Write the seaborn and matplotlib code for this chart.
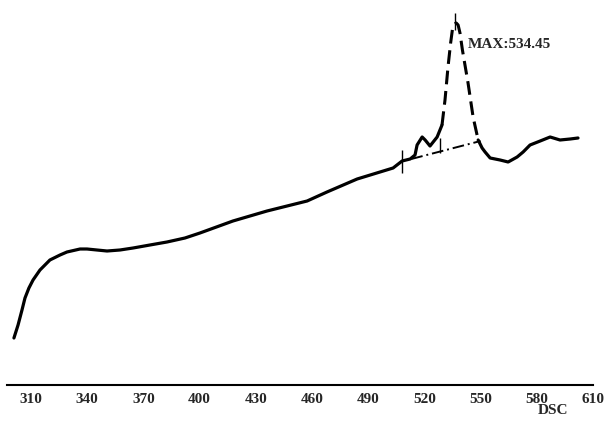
import numpy as np
import pandas as pd
import seaborn as sns
import matplotlib
matplotlib.use("Agg")
import matplotlib.pyplot as plt

# DSC trace, temperature (deg C) vs. heat flow (arbitrary units)
temp_left = [300.9, 303.1, 305.2, 306.8, 308.9, 311.1, 314.8, 320.1, 325.5, 329.2,
             336.2, 339.9, 345.2, 350.6, 357.5, 364.5, 373.5, 382.6, 392.2, 400.2,
             417.8, 436.0, 457.4, 468.0, 484.1, 503.3, 508.1, 512.4, 515.0, 516.1,
             518.8, 520.4, 523.0, 526.8, 529.4]
flow_left = [47, 60, 75, 87, 97, 105, 115, 125, 130, 133,
             136, 136, 135, 134, 135, 137, 140, 143, 147, 152,
             164, 174, 184, 193, 206, 217, 224, 226, 230, 240,
             248, 245, 239, 248, 260]

temp_peak = [529.4, 531.0, 532.6, 534.0, 535.0, 536.0, 537.0, 538.0, 539.0, 540.3,
             543.3, 546.0, 548.7]
flow_peak = [260, 285, 318, 342, 356, 361, 362, 360, 352, 335,
             302, 268, 245]

temp_right = [548.7, 550.8, 552.4, 555.1, 560.4, 564.7, 569.5, 572.7, 576.4, 581.8,
              587.1, 592.4, 597.8, 602.0]
flow_right = [245, 237, 233, 227, 225, 223, 228, 233, 240, 244,
              248, 245, 246, 247]

# baseline drawn under the peak
base_temp = [513.0, 550.0]
base_flow = [226, 244]

# little vertical markers on the trace
marks_temp = [508.1, 528.4, 536.5]
marks_lo = [212, 232, 355]
marks_hi = [235, 247, 372]

peak_temp = 534.45
xticks = [310, 340, 370, 400, 430, 460, 490, 520, 550, 580, 610]

sns.set_style("white")
plt.rcParams['font.family'] = ['Liberation Serif', 'DejaVu Serif']

fig = plt.figure(figsize=(6.06, 4.24), dpi=100)
ax = fig.add_axes([7 / 606, 39 / 424, 586 / 606, 385 / 424])

left = pd.DataFrame({'T': temp_left, 'Q': flow_left})
peak = pd.DataFrame({'T': temp_peak, 'Q': flow_peak})
right = pd.DataFrame({'T': temp_right, 'Q': flow_right})

sns.lineplot(data=left, x='T', y='Q', sort=False, color='black', lw=2.3, ax=ax)
sns.lineplot(data=peak, x='T', y='Q', sort=False, color='black', lw=2.2,
             linestyle=(0, (4.5, 2.2)), ax=ax)
sns.lineplot(data=right, x='T', y='Q', sort=False, color='black', lw=2.3, ax=ax)
ax.plot(base_temp, base_flow, color='black', lw=1.4, linestyle=(0, (6, 2, 1, 2)))
ax.vlines(marks_temp, marks_lo, marks_hi, color='black', lw=1.0)

ax.text(543.3, 340, f"MAX:{peak_temp}", fontsize=11, fontweight='bold', va='center', ha='left')

ax.set_xlim(297.2, 610)
ax.set_ylim(0, 385)
ax.set_xticks(xticks)
ax.set_yticks([])
ax.set_xlabel("")
ax.set_ylabel("")
for s in ['left', 'right', 'top']:
    ax.spines[s].set_visible(False)
ax.spines['bottom'].set_linewidth(1.5)
ax.spines['bottom'].set_color('black')
ax.tick_params(axis='x', direction='in', length=4, width=1.5, pad=6, labelsize=11)
for lab in ax.get_xticklabels():
    lab.set_fontweight('bold')

fig.text(553 / 606, 1 - 411 / 424, "DSC", fontsize=11, fontweight='bold', ha='center', va='center')

fig.savefig("out.png", dpi=100)
